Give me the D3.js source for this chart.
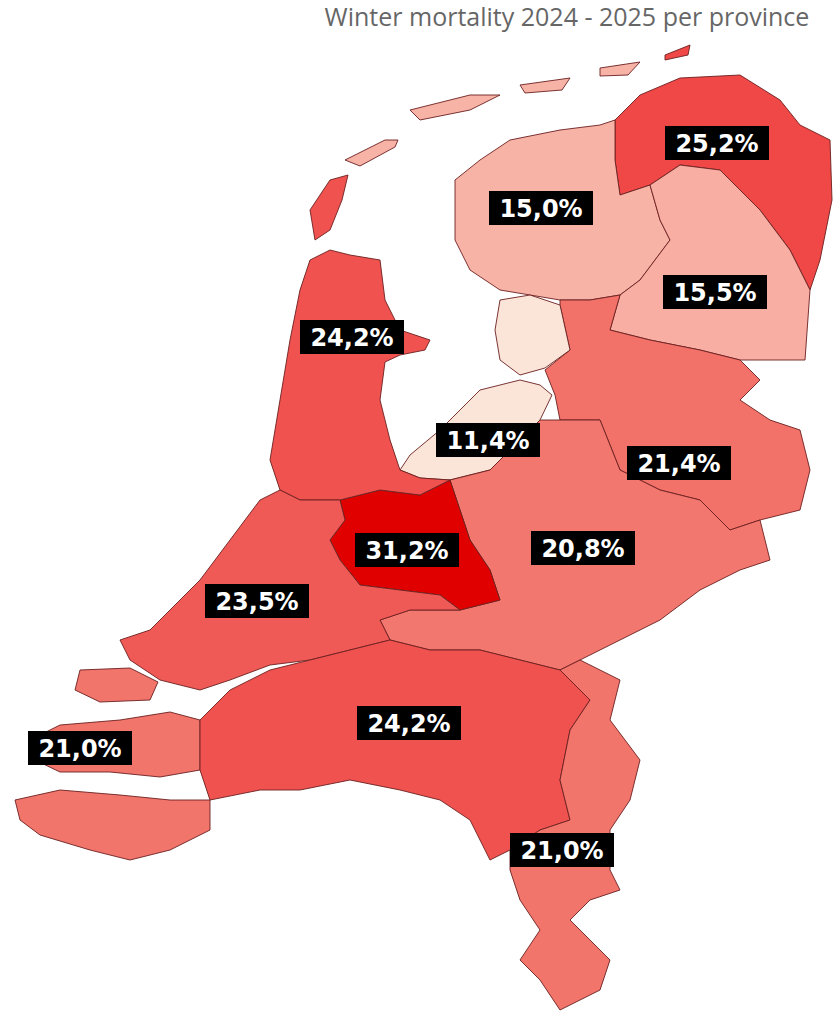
<!DOCTYPE html>
<html><head><meta charset="utf-8">
<script src="https://cdn.jsdelivr.net/npm/d3@7"></script>
<style>body{margin:0;background:#fff}</style></head>
<body><svg id="c" width="840" height="1025"></svg>
<script>
// Province names and winter mortality (%)
const provinces = ["Groningen","Friesland","Drenthe","Overijssel","Flevoland","Gelderland","Utrecht","Noord-Holland","Zuid-Holland","Zeeland","Noord-Brabant","Limburg"];
const mortality = [25.2,15.0,15.5,21.4,11.4,20.8,31.2,24.2,23.5,21.0,24.2,21.0];
// Simplified outlines in a local planar grid (x east, y south)
const outlines = [
 [[[615,120],[640,95],[680,78],[740,75],[780,100],[800,125],[830,140],[832,200],[820,260],[810,290],[790,250],[760,210],[720,170],[680,165],[650,185],[620,195],[615,160],[615,120]],
  [[665,55],[690,45],[688,55],[665,60],[665,55]]],
 [[[455,180],[480,160],[510,140],[560,130],[600,125],[615,120],[615,160],[620,195],[650,185],[660,220],[670,240],[640,280],[620,295],[590,300],[560,300],[530,295],[500,290],[470,270],[455,240],[455,180]],
  [[345,160],[385,140],[398,140],[395,147],[360,166],[345,160]],
  [[410,110],[470,95],[500,95],[470,110],[420,120],[410,110]],
  [[520,85],[570,78],[562,90],[525,93],[520,85]],
  [[600,68],[640,62],[628,75],[600,76],[600,68]]],
 [[[650,185],[680,165],[720,170],[760,210],[790,250],[810,290],[805,360],[740,360],[700,350],[650,340],[610,330],[620,295],[640,280],[670,240],[660,220],[650,185]]],
 [[[560,300],[590,300],[620,295],[610,330],[650,340],[700,350],[740,360],[760,380],[740,400],[770,420],[800,430],[810,470],[800,510],[760,520],[730,530],[700,500],[660,490],[620,470],[600,420],[560,420],[555,395],[545,370],[570,350],[560,305],[560,300]]],
 [[[500,300],[530,295],[560,305],[570,350],[545,368],[520,375],[500,360],[495,330],[500,300]],
  [[440,430],[480,390],[520,380],[540,385],[552,395],[540,420],[520,440],[490,470],[450,480],[420,478],[400,470],[410,455],[440,430]]],
 [[[450,480],[490,470],[520,440],[540,420],[560,420],[600,420],[620,470],[660,490],[700,500],[730,530],[760,520],[770,560],[740,570],[700,590],[660,620],[620,640],[580,660],[560,670],[520,660],[480,650],[430,650],[390,640],[380,620],[410,610],[460,610],[500,600],[490,570],[470,540],[460,510],[450,480]]],
 [[[340,500],[380,490],[420,495],[450,480],[460,510],[470,540],[490,570],[500,600],[460,610],[440,595],[400,590],[360,585],[340,560],[330,540],[345,520],[340,500]]],
 [[[310,260],[330,250],[350,255],[380,260],[385,300],[400,330],[430,340],[425,350],[400,355],[385,362],[380,400],[390,440],[400,470],[420,478],[450,480],[420,495],[380,490],[340,500],[300,500],[280,490],[270,460],[280,400],[290,340],[300,290],[310,260]],
  [[310,210],[330,180],[348,175],[342,200],[330,230],[315,240],[310,210]]],
 [[[280,490],[300,500],[340,500],[345,520],[330,540],[340,560],[360,585],[400,590],[440,595],[460,610],[410,610],[380,620],[390,640],[350,650],[310,660],[270,665],[230,680],[200,690],[160,680],[130,660],[120,640],[150,630],[170,610],[200,580],[230,540],[260,500],[280,490]]],
 [[[80,670],[130,668],[158,682],[150,700],[100,702],[75,690],[80,670]],
  [[30,740],[60,725],[120,720],[170,712],[200,720],[200,770],[160,777],[110,772],[60,772],[35,760],[30,740]],
  [[15,800],[60,790],[120,795],[170,800],[210,800],[210,830],[170,850],[130,860],[90,850],[40,835],[20,820],[15,800]]],
 [[[200,720],[230,690],[270,670],[310,660],[350,650],[390,640],[430,650],[480,650],[520,660],[560,670],[590,700],[570,730],[560,780],[570,820],[540,830],[510,850],[490,860],[470,820],[440,800],[400,790],[350,780],[300,790],[260,790],[210,800],[200,770],[200,720]]],
 [[[560,670],[580,660],[620,680],[610,720],[640,760],[630,800],[610,830],[610,870],[620,890],[590,900],[570,920],[590,940],[610,960],[600,990],[560,1010],[540,980],[520,960],[540,930],[520,900],[510,870],[510,850],[540,830],[570,820],[560,780],[570,730],[590,700],[560,670]]]
];
const labelAt = [[717,143],[541,208],[715,292],[679,463],[488,440],[583,548],[407,550],[352,337],[257,601],[80,748],[409,723],[562,850]];

const svg = d3.select("#c");
const allPts = outlines.flat(2);
const x = d3.scaleLinear().domain(d3.extent(allPts,p=>p[0])).range([15,832]);
const y = d3.scaleLinear().domain(d3.extent(allPts,p=>p[1])).range([45,1010]);
const line = d3.line().x(p=>x(p[0])).y(p=>y(p[1])).curve(d3.curveLinearClosed);
const color = d3.scaleLinear().domain([11.4,15,21,25,31.2]).range(["#fbe4d8","#f8b3a7","#f2756c","#ef4a48","#e00000"]);
const feats = provinces.map((p,i)=>({name:p,v:mortality[i],rings:outlines[i],lab:labelAt[i]}));
svg.selectAll("path").data(feats).join("path")
  .attr("d",d=>d.rings.map(r=>line(r.slice(0,-1))).join(""))
  .attr("fill",d=>color(d.v)).attr("stroke","#6b1f1f").attr("stroke-width",0.9);
const fmt = v => v.toFixed(1).replace(".",",")+"%";
const g = svg.selectAll("g.l").data(feats).join("g").attr("class","l")
  .attr("transform",d=>`translate(${x(d.lab[0])},${y(d.lab[1])})`);
g.append("rect").attr("x",-52).attr("y",-17).attr("width",104).attr("height",34).attr("fill","#000");
g.append("text").attr("text-anchor","middle").attr("dy","0.36em").attr("fill","#fff")
  .attr("font-family","DejaVu Sans").attr("font-weight","bold").attr("font-size",24).text(d=>fmt(d.v));
svg.append("text").attr("x",567).attr("y",26).attr("text-anchor","middle").attr("fill","#666")
  .attr("font-family","Open Sans").attr("font-size",25).text("Winter mortality 2024 - 2025 per province");
</script></body></html>
